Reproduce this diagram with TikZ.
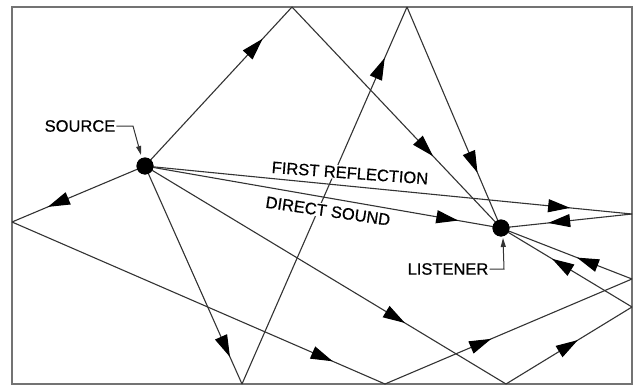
\documentclass[tikz,border=0pt]{standalone}
\usepackage{fontspec}
\setmainfont{Liberation Sans}
\newfontfamily\lblfont[FakeBold=0.6]{Liberation Sans}
\usetikzlibrary{arrows.meta,decorations.markings}
\tikzset{
  wall/.style={draw=black!55, line width=1.4pt},
  ray/.style={draw=black!80, line width=1.1pt},
  arr/.style={postaction={decorate, decoration={markings,
      mark=at position #1 with {\arrow[black]{Triangle[length=22pt,width=13pt]}}}}},
  dot/.style={circle, fill=black, minimum size=17pt, inner sep=0pt},
  lbl/.style={font=\lblfont\fontsize{16.5}{18}\selectfont, inner sep=1pt},
  maskl/.style={lbl, fill=white},
  leader/.style={draw=black!80, line width=1pt, -{Triangle[length=9pt,width=5pt]}}
}
\begin{document}
\begin{tikzpicture}[x=1pt,y=-1pt]
\useasboundingbox (0,0) rectangle (633,388);
\draw[wall] (12,7) rectangle (632,384);
% reflection points
\coordinate (A1) at (292,7);
\coordinate (B1) at (12,222);
\coordinate (B2) at (385,384);
\coordinate (B3) at (632,279);
\coordinate (C1) at (242,384);
\coordinate (C2) at (407,7);
\coordinate (D1) at (506,384);
\coordinate (D2) at (632,307);
\coordinate (E1) at (632,214);
% source and listener
\node[dot] (S) at (145,166) {};
\node[dot] (L) at (501,228) {};
% rays
\draw[ray, arr=0.80] (S.center) -- (A1);
\draw[ray, arr=0.675] (A1) -- (L.center);
\draw[ray, arr=0.73] (S.center) -- (B1);
\draw[ray, arr=0.86] (B1) -- (B2);
\draw[ray, arr=0.43] (B2) -- (B3);
\draw[ray, arr=0.42] (B3) -- (L.center);
\draw[ray, arr=0.876] (S.center) -- (C1);
\draw[ray, arr=0.865] (C1) -- (C2);
\draw[ray, arr=0.75] (C2) -- (L.center);
\draw[ray, arr=0.72] (S.center) -- (D1);
\draw[ray, arr=0.57] (D1) -- (D2);
\draw[ray, arr=0.61] (D2) -- (L.center);
\draw[ray, arr=0.873] (S.center) -- (E1);
\draw[ray, arr=0.64] (E1) -- (L.center);
\draw[ray, arr=0.88] (S.center) -- (L.center);
% dots on top
\node[dot] at (S) {};
\node[dot] at (L) {};
% ray labels
\node[maskl, rotate=-4.2] (fr) at (350,173) {FIRST REFLECTION};
\node[maskl, rotate=-8.3] (ds) at (328,211) {DIRECT SOUND};
% source / listener labels
\node[lbl] (sl) at (80,126) {SOURCE};
\node[lbl] (ll) at (448,269) {LISTENER};
\coordinate (sk) at (133,126);
\coordinate (st) at (141,155);
\draw[leader] (sl.east) -- (sk) -- (st);
\coordinate (lk) at (504,269);
\coordinate (lt) at (503,238);
\draw[leader] (ll.east) -- (lk) -- (lt);
\end{tikzpicture}
\end{document}
